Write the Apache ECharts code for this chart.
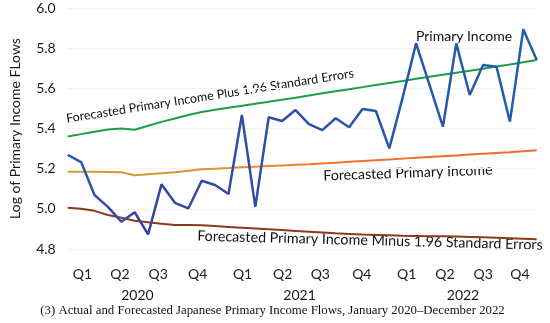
<!DOCTYPE html>
<html>
<head>
<meta charset="utf-8">
<script src="https://cdn.jsdelivr.net/npm/echarts@6/dist/echarts.min.js"></script>
<style>
html,body{margin:0;padding:0;background:#fff;}
#chart{width:550px;height:323px;}
</style>
</head>
<body>
<div id="chart"></div>
<script>
// Months Jan 2020 .. Dec 2022
var months = [];
['2020','2021','2022'].forEach(function(y){ for (var m=1;m<=12;m++){ months.push(y+'-'+(m<10?'0':'')+m); } });

var primaryIncome = [5.269,5.233,5.069,5.010,4.936,4.983,4.873,5.122,5.030,5.002,5.140,5.119,
                     5.074,5.467,5.010,5.456,5.437,5.492,5.422,5.392,5.451,5.406,5.497,5.487,
                     5.301,5.555,5.824,5.617,5.409,5.824,5.567,5.716,5.708,5.434,5.894,5.741];
var forecastPlus = [5.360,5.372,5.384,5.395,5.400,5.394,5.414,5.433,5.450,5.467,5.482,5.493,
                    5.503,5.513,5.523,5.533,5.543,5.553,5.564,5.575,5.586,5.596,5.606,5.617,
                    5.627,5.637,5.648,5.658,5.668,5.678,5.688,5.698,5.709,5.719,5.730,5.741];
var forecast = [5.185,5.185,5.185,5.184,5.182,5.167,5.172,5.177,5.182,5.190,5.197,5.200,
                5.203,5.207,5.210,5.213,5.216,5.219,5.222,5.226,5.230,5.234,5.238,5.242,
                5.246,5.250,5.254,5.258,5.262,5.266,5.270,5.274,5.278,5.282,5.287,5.292];
var forecastMinus = [5.005,5.000,4.990,4.969,4.956,4.941,4.933,4.926,4.919,4.919,4.918,4.914,
                     4.910,4.906,4.902,4.898,4.894,4.890,4.886,4.882,4.878,4.875,4.872,4.870,
                     4.868,4.866,4.865,4.864,4.863,4.862,4.860,4.858,4.856,4.854,4.851,4.848];

var quarterLabels = ['Q1','Q2','Q3','Q4','Q1','Q2','Q3','Q4','Q1','Q2','Q3','Q4'];
var quarterPos = [1.1,3.9,6.75,9.7,13.05,16.05,18.85,21.95,25.3,28.15,31.0,33.75];
var yearLabels = ['2020','2021','2022'];
var yearPos = [5.2,17.3,29.5];
var yTicks = [4.8,5.0,5.2,5.4,5.6,5.8,6.0];

var FONT = 'Lato';
var chart = echarts.init(document.getElementById('chart'), null, {renderer:'canvas'});
var option = {
  backgroundColor:'#ffffff',
  animation:false,
  grid:{left:67.7,right:13.3,top:8,bottom:74,containLabel:false},
  xAxis:[
    {type:'category',data:months,boundaryGap:false,
     axisLine:{show:false},axisTick:{show:false},axisLabel:{show:false},splitLine:{show:false}},
    {type:'value',min:0,max:35,position:'bottom',
     axisLine:{show:false},axisTick:{show:false},splitLine:{show:false},
     axisLabel:{customValues:quarterPos,margin:18,fontFamily:FONT,fontSize:14,color:'#1a1a1a',
       formatter:function(v){var i=quarterPos.indexOf(v);return i>=0?quarterLabels[i]:'';}}},
    {type:'value',min:0,max:35,position:'bottom',
     axisLine:{show:false},axisTick:{show:false},splitLine:{show:false},
     axisLabel:{customValues:yearPos,margin:39,fontFamily:FONT,fontSize:14,color:'#1a1a1a',
       formatter:function(v){var i=yearPos.indexOf(v);return i>=0?yearLabels[i]:'';}}}
  ],
  yAxis:{type:'value',min:yTicks[0],max:yTicks[yTicks.length-1],interval:0.2,
    name:'Log of Primary Income FLows',nameLocation:'middle',nameGap:45,
    nameTextStyle:{fontFamily:FONT,fontSize:14,color:'#1a1a1a'},
    axisLine:{show:false},axisTick:{show:false},
    splitLine:{show:true,lineStyle:{color:'#f3f3f3',width:1}},
    axisLabel:{margin:12,fontFamily:FONT,fontSize:14,color:'#1a1a1a',formatter:function(v){return v.toFixed(1);}}},
  series:[
    {type:'line',name:'Plus',data:forecastPlus,symbol:'none',lineStyle:{color:'#1E9E48',width:2},z:2},
    {type:'line',name:'Forecast',data:forecast,symbol:'none',
     lineStyle:{width:2,color:new echarts.graphic.LinearGradient(0,0,1,0,[
       {offset:0,color:'#C9A032'},{offset:0.35,color:'#E3902E'},{offset:0.6,color:'#F2722C'},{offset:1,color:'#F5682A'}])},z:2},
    {type:'line',name:'Minus',data:forecastMinus,symbol:'none',lineStyle:{color:'#8B3A1C',width:2},z:2},
    {type:'line',name:'Primary Income',data:primaryIncome,symbol:'none',
     lineStyle:{width:2.5,color:new echarts.graphic.LinearGradient(0,0,1,0,[
       {offset:0,color:'#2B62AC'},{offset:0.15,color:'#3A40A8'},{offset:0.4,color:'#2F4FA8'},{offset:1,color:'#1F60AA'}])},z:3}
  ],
  graphic:[
    {type:'text',x:210,y:96,rotation:9*Math.PI/180,style:{text:'Forecasted Primary Income Plus 1.96 Standard Errors',font:'12.5px Lato',fill:'#111',align:'center',verticalAlign:'middle'}},
    {type:'text',x:464,y:36,style:{text:'Primary Income',font:'14px Lato',fill:'#111',align:'center',verticalAlign:'middle'}},
    {type:'text',x:408,y:173,rotation:2*Math.PI/180,style:{text:'Forecasted Primary Income',font:'14.2px Lato',fill:'#111',align:'center',verticalAlign:'middle'}},
    {type:'text',x:370,y:240.5,rotation:-1.5*Math.PI/180,style:{text:'Forecasted Primary Income Minus 1.96 Standard Errors',font:'14.3px Lato',fill:'#111',align:'center',verticalAlign:'middle'}},
    {type:'text',x:272.5,y:311,style:{text:'(3) Actual and Forecasted Japanese Primary Income Flows, January 2020\u2013December 2022',font:'12.8px "Liberation Serif"',fill:'#111',align:'center',verticalAlign:'middle'}}
  ]
};
chart.setOption(option);
</script>
</body>
</html>
